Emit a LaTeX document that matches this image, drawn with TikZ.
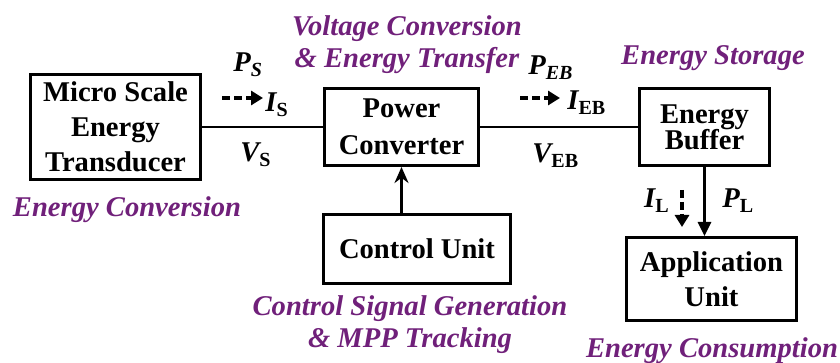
\documentclass[tikz,border=0pt]{standalone}
\usepackage{fontspec}
\setmainfont{Liberation Serif}
\usetikzlibrary{arrows.meta,positioning}
\definecolor{tagpurple}{HTML}{70207A}
\newcommand{\rsub}[1]{\textsubscript{\upshape #1}}
\newcommand{\isub}[1]{\textsubscript{#1}}
\tikzset{
  blk/.style={draw,line width=1.5pt,align=center,inner sep=0pt,font=\fontsize{14.3}{17.5}\selectfont\bfseries},
  tag/.style={text=tagpurple,align=center,inner sep=0pt,font=\fontsize{14.3}{16}\selectfont\bfseries\itshape},
  sig/.style={inner sep=0pt,font=\fontsize{14.3}{16}\selectfont\bfseries\itshape},
  wire/.style={line width=1.4pt},
  ar/.style={wire,-{Triangle[length=7pt,width=6.5pt]}},
  arc/.style={wire,-{Stealth[length=8pt,width=7pt]}},
  flow/.style={line width=2.2pt,dash pattern=on 4pt off 2pt,-{Triangle[length=6pt,width=7pt]}},
}
\begin{document}
\begin{tikzpicture}[x=0.5pt,y=-0.5pt]
  \useasboundingbox (0,0) rectangle (840,363);
  % blocks
  \node[blk,minimum width=85pt,minimum height=52.5pt] (mset) at (115.5,127) {Micro Scale\\Energy\\Transducer};
  \node[blk,minimum width=77pt,minimum height=38.5pt] (pc) at (401.5,127) {Power\\[1pt]Converter};
  \node[blk,minimum width=65pt,minimum height=38.5pt] (buf) at (704.5,127) {\raisebox{0pt}[\height][0pt]{Energy}\\[-4.5pt]Buffer};
  \node[blk,minimum width=93.5pt,minimum height=34.5pt] (cu) at (417,249) {Control Unit};
  \node[blk,minimum width=85pt,minimum height=41.5pt] (app) at (711.5,279) {Application\\Unit};
  % connections
  \draw[wire] (mset) -- (pc);
  \draw[wire] (pc) -- (buf);
  \draw[arc] (cu.north -| pc.south) -- (pc.south);
  \draw[ar] (buf.south) -- (buf.south |- app.north);
  % signals
  \node[sig,anchor=base west] (ps) at (233,72) {P\isub{S}};
  \node[sig,anchor=base west] (is) at (265,112) {I\rsub{S}};
  \node[sig,anchor=base west] (vs) at (240,162) {V\rsub{S}};
  \draw[flow] ([xshift=-21.5pt,yshift=7pt]is.base west) -- ([xshift=-1pt,yshift=7pt]is.base west);
  \node[sig,anchor=base west] (peb) at (528,75) {P\isub{EB}};
  \node[sig,anchor=base west] (ieb) at (567,110) {I\rsub{EB}};
  \node[sig,anchor=base west] (veb) at (532,163) {V\rsub{EB}};
  \draw[flow] ([xshift=-23.5pt,yshift=6pt]ieb.base west) -- ([xshift=-3.5pt,yshift=6pt]ieb.base west);
  \node[sig,anchor=base east] (il) at (670,208) {I\rsub{L}};
  \node[sig,anchor=base west] (pl) at (722,208) {P\rsub{L}};
  \draw[flow] ([xshift=6pt,yshift=9pt]il.base east) -- ++(0,37);
  % function tags
  \node[tag] (vc) at (407,45) {Voltage Conversion\\\& Energy Transfer};
  \node[tag,anchor=base] (ec) at (127,217) {Energy Conversion};
  \node[tag,anchor=base] (es) at (713,65) {Energy Storage};
  \node[tag] (cs) at (410,325) {Control Signal Generation\\\& MPP Tracking};
  \node[tag,anchor=base] (ecn) at (712,357) {Energy Consumption};
\end{tikzpicture}
\end{document}
